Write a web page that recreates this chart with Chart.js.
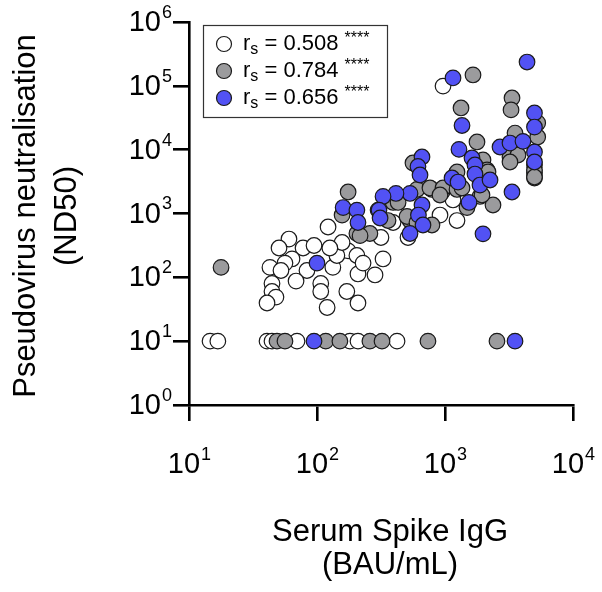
<!DOCTYPE html>
<html>
<head>
<meta charset="utf-8">
<script src="https://cdn.jsdelivr.net/npm/chart.js@4.4.1/dist/chart.umd.min.js"></script>
<style>
  html, body { margin: 0; padding: 0; background: #fff; }
  #wrap { width: 602px; height: 592px; }
</style>
</head>
<body>
<div id="wrap"><canvas id="chart" width="602" height="592"></canvas></div>
<script>
// Serum spike IgG (BAU/mL) vs pseudovirus ND50, three cohorts

const xTicks = [10, 100, 1000, 10000];
const yTicks = [1, 10, 100, 1000, 10000, 100000, 1000000];

const whiteLabel = '0.508';
const greyLabel = '0.784';
const blueLabel = '0.656';

// open circles
const whiteIgG = [14.6, 16.8, 40.7, 44.5, 69.8, 181, 209, 422,
  122, 60.4, 50.5, 77.8, 94.8, 42.9, 63.8, 56.2, 52.3, 83.5,
  68.6, 44.5, 44.5, 47.8, 40.7, 107, 107, 120, 133, 157,
  175, 143, 209, 284, 328, 171, 209, 205, 157, 126,
  229, 316, 393, 514, 914, 1155, 1241, 965];
const whiteND50 = [10, 10, 10, 10, 10, 10, 10, 10,
  614, 398, 288, 288, 315, 143, 194, 167, 128, 128,
  87.5, 80, 60, 49, 39.6, 80, 60, 33.7, 143, 263,
  260, 220, 113, 109, 194, 60, 39.6, 220, 351, 288,
  167, 421, 723, 421, 946, 1630, 776, 99000];

// grey circles
const greyIgG = [48.7, 56.2, 117, 151, 259, 322, 736, 2547,
  17.8, 175, 157, 205, 259, 300, 393, 604, 791, 948,
  562, 533, 791, 359, 430, 505, 604, 217, 1655, 3338,
  3280, 1334, 1778, 5300, 3524, 3219, 3718, 5000, 5000, 5000,
  5300, 3524, 1981, 2129, 1241, 763, 965, 1241, 1876, 2371,
  1486, 914, 1358, 1945, 2168, 3219, 5000, 5000];
const greyND50 = [10, 10, 10, 10, 10, 10, 10, 10,
  143, 2170, 946, 486, 486, 1130, 1490, 2380, 2380, 2170,
  6180, 776, 660, 776, 1490, 897, 723, 450, 148000, 64500,
  42000, 45000, 13200, 26200, 11000, 7670, 8240, 5750, 4310, 3600,
  15800, 18200, 6890, 4800, 4470, 2510, 2510, 2380, 1850, 1360,
  1240, 1950, 2510, 1950, 4470, 6410, 4800, 3730];

// blue circles
const blueIgG = [94.8, 3524, 100, 4374, 1155, 5000, 5000, 1358,
  2690, 3219, 4066, 5000, 5000, 661, 615, 638, 1286, 1625,
  1715, 1715, 1876, 2248, 1135, 1264, 3338, 1540, 1981, 533,
  414, 328, 160, 205, 209, 305, 311, 661, 620, 673, 533];
const blueND50 = [10, 10, 167, 236000, 133000, 37500, 22600, 23900,
  11000, 12700, 13500, 9190, 6410, 7670, 5450, 4010, 10100, 7400,
  5750, 4150, 2790, 3350, 3600, 3110, 2170, 1490, 480, 2060,
  2060, 1850, 1240, 1130, 723, 1130, 850, 1360, 946, 660, 486];

const FONT = '"Liberation Sans", Arial, Helvetica, sans-serif';
const colors = { white: '#ffffff', grey: '#9b9b9d', blue: '#5252f4' };

function pts(xs, ys) {
  return xs.map((x, i) => ({ x: x, y: ys[i] }));
}

function dataset(label, xs, ys, fill, order) {
  return {
    label: label,
    data: pts(xs, ys),
    backgroundColor: fill,
    borderColor: '#1a1a1a',
    borderWidth: 1.2,
    pointRadius: 7.8,
    pointHoverRadius: 7.8,
    order: order
  };
}

// power-of-ten tick labels with a superscript exponent
function drawPow(ctx, v, x, y, align) {
  const e = String(Math.round(Math.log10(v)));
  ctx.font = '29px ' + FONT;
  const wb = ctx.measureText('10').width;
  ctx.font = '18px ' + FONT;
  const we = ctx.measureText(e).width;
  let x0 = align === 'right' ? x - wb - we - 1 : x - (wb + we) / 2;
  ctx.textAlign = 'left';
  ctx.textBaseline = 'middle';
  ctx.font = '29px ' + FONT;
  ctx.fillText('10', x0, y + 1);
  ctx.font = '18px ' + FONT;
  ctx.fillText(e, x0 + wb + 1, y - 9);
}

const decorPlugin = {
  id: 'decor',
  afterDraw(chart) {
    const ctx = chart.ctx;
    const xs = chart.scales.x, ys = chart.scales.y;
    const area = chart.chartArea;
    ctx.save();
    ctx.fillStyle = '#000';

    yTicks.forEach(v => drawPow(ctx, v, area.left - 17, ys.getPixelForValue(v), 'right'));
    xTicks.forEach(v => drawPow(ctx, v, xs.getPixelForValue(v), 464, 'center'));

    // axis titles
    ctx.font = '31px ' + FONT;
    ctx.textAlign = 'center';
    ctx.textBaseline = 'middle';
    ctx.fillText('Serum Spike IgG', 390, 532);
    ctx.fillText('(BAU/mL)', 390, 565);
    ctx.save();
    ctx.translate(26, 216);
    ctx.rotate(-Math.PI / 2);
    ctx.fillText('Pseudovirus neutralisation', 0, 0);
    ctx.restore();
    ctx.save();
    ctx.translate(67, 216);
    ctx.rotate(-Math.PI / 2);
    ctx.fillText('(ND50)', 0, 0);
    ctx.restore();

    // legend box
    ctx.strokeStyle = '#333';
    ctx.lineWidth = 1.2;
    ctx.strokeRect(203.5, 25.5, 184, 92);
    const rows = [
      [colors.white, whiteLabel, 44],
      [colors.grey, greyLabel, 71],
      [colors.blue, blueLabel, 98]
    ];
    rows.forEach(r => {
      ctx.beginPath();
      ctx.arc(224, r[2], 7.5, 0, Math.PI * 2);
      ctx.fillStyle = r[0];
      ctx.fill();
      ctx.strokeStyle = '#1a1a1a';
      ctx.lineWidth = 1.2;
      ctx.stroke();
      ctx.fillStyle = '#000';
      ctx.textAlign = 'left';
      ctx.textBaseline = 'middle';
      let x = 243;
      ctx.font = '22px ' + FONT;
      ctx.fillText('r', x, r[2]);
      x += ctx.measureText('r').width;
      ctx.font = '16px ' + FONT;
      ctx.fillText('s', x, r[2] + 6);
      x += ctx.measureText('s').width;
      ctx.font = '22px ' + FONT;
      const t = ' = ' + r[1];
      ctx.fillText(t, x, r[2]);
      x += ctx.measureText(t).width + 6;
      ctx.font = '16px ' + FONT;
      ctx.fillText('****', x, r[2] - 5);
    });
    ctx.restore();
  }
};

const axisLine = { display: true, color: '#000', width: 2.6 };
const tickMarks = {
  drawOnChartArea: false,
  drawTicks: true,
  tickLength: 16,
  color: '#000',
  lineWidth: 2.6
};

new Chart(document.getElementById('chart'), {
  type: 'scatter',
  data: {
    datasets: [
      dataset('white', whiteIgG, whiteND50, colors.white, 3),
      dataset('grey', greyIgG, greyND50, colors.grey, 2),
      dataset('blue', blueIgG, blueND50, colors.blue, 1)
    ]
  },
  options: {
    responsive: false,
    animation: false,
    devicePixelRatio: 1,
    layout: { padding: { top: 22, right: 29, left: 0, bottom: 0 } },
    scales: {
      x: {
        type: 'logarithmic',
        min: 10,
        max: 10000,
        afterBuildTicks: s => { s.ticks = xTicks.map(v => ({ value: v })); },
        afterFit: s => { s.height = 187; },
        grid: tickMarks,
        border: axisLine,
        ticks: { display: false }
      },
      y: {
        type: 'logarithmic',
        min: 1,
        max: 1000000,
        afterBuildTicks: s => { s.ticks = yTicks.map(v => ({ value: v })); },
        afterFit: s => { s.width = 189; },
        grid: tickMarks,
        border: axisLine,
        ticks: { display: false }
      }
    },
    plugins: {
      legend: { display: false },
      tooltip: { enabled: false }
    }
  },
  plugins: [decorPlugin]
});
</script>
</body>
</html>
